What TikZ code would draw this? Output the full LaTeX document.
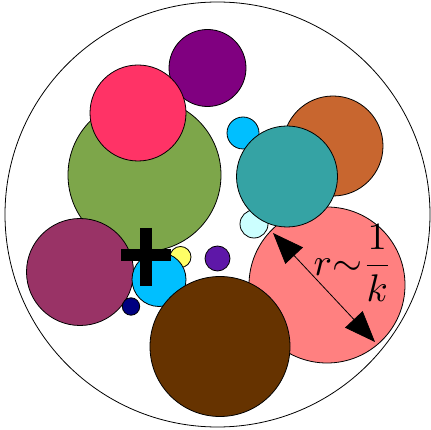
\documentclass[tikz,border=0pt]{standalone}
\usetikzlibrary{arrows.meta}
\definecolor{cgreen}{HTML}{7DA64A}
\definecolor{cpink}{HTML}{FF3366}
\definecolor{cpurple}{HTML}{800080}
\definecolor{corange}{HTML}{C8662F}
\definecolor{cblue}{HTML}{00BFFF}
\definecolor{cteal}{HTML}{35A3A4}
\definecolor{clcyan}{HTML}{CCFFFF}
\definecolor{csalmon}{HTML}{FF8080}
\definecolor{cmaroon}{HTML}{993366}
\definecolor{cyellow}{HTML}{FFFF66}
\definecolor{cviolet}{HTML}{5E17A8}
\definecolor{cnavy}{HTML}{000080}
\definecolor{cbrown}{HTML}{663300}
\begin{document}
\begin{tikzpicture}[x=1pt,y=-1pt,
  disc/.style={draw=black,line width=0.8pt}]
\useasboundingbox (0,0) rectangle (431,430);
\draw[line width=0.8pt] (217.5,214.5) circle (212.5);
\filldraw[disc,fill=cgreen] (144.5,175) circle (76.5);
\filldraw[disc,fill=cpurple] (207.5,68) circle (38.5);
\filldraw[disc,fill=cpink] (138,113) circle (48);
\filldraw[disc,fill=corange] (333,146) circle (50);
\filldraw[disc,fill=cblue] (243,133) circle (16);
\filldraw[disc,fill=clcyan] (254,224) circle (14);
\filldraw[disc,fill=csalmon] (327,285) circle (78);
\filldraw[disc,fill=cteal] (287,176.5) circle (50.5);
\filldraw[disc,fill=cmaroon] (80,272) circle (53.5);
\filldraw[disc,fill=cyellow] (180.5,257) circle (10.5);
\filldraw[disc,fill=cblue] (159,279.5) circle (27);
\filldraw[disc,fill=cviolet] (217.5,258.5) circle (12.5);
\filldraw[disc,fill=cnavy] (131,306.5) circle (8.7);
\filldraw[disc,fill=cbrown] (220,346.5) circle (70);
\draw[line width=12.5pt] (121,255) -- (171,255);
\draw[line width=12.5pt] (146,228) -- (146,286);
\coordinate (a1) at (273,233);
\coordinate (a2) at (375,342);
\draw[line width=0.8pt,{Triangle[length=31pt,width=24pt]}-{Triangle[length=31pt,width=24pt]}] (a1) -- (a2);
\node[scale=3.85,inner sep=0pt] (lab) at (353,263) {$r{\sim}\displaystyle\frac{1}{k}$};
\end{tikzpicture}
\end{document}
